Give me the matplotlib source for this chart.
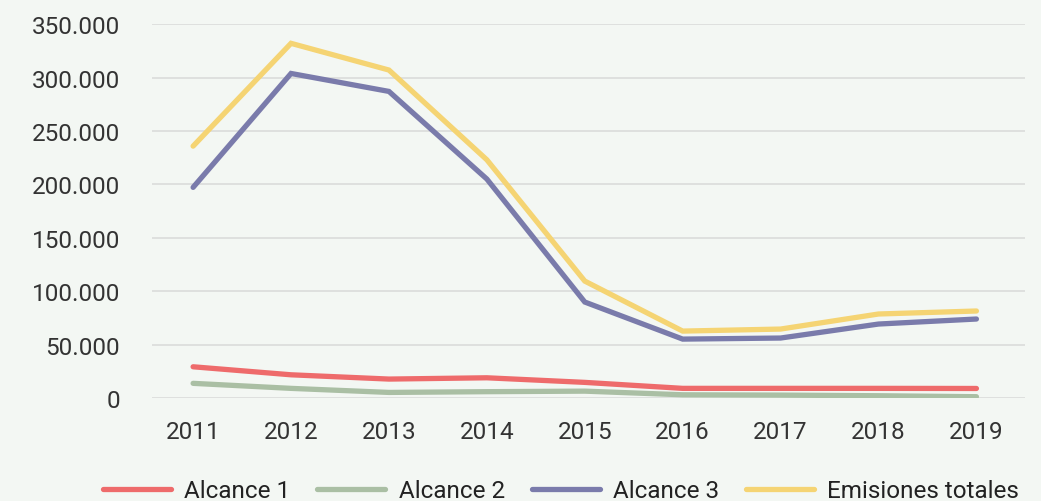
import numpy as np
import matplotlib
matplotlib.use("Agg")
import matplotlib.pyplot as plt
from matplotlib.ticker import FuncFormatter

years = ["2011", "2012", "2013", "2014", "2015", "2016", "2017", "2018", "2019"]
alcance_1 = [29300, 21800, 17800, 19000, 14700, 9100, 9100, 9100, 9000]
alcance_2 = [13800, 9100, 5300, 6000, 6500, 3100, 2800, 2200, 1300]
alcance_3 = [197200, 303800, 287000, 205000, 89900, 55200, 56200, 69300, 74000]
totales = [235800, 332000, 307000, 223000, 109500, 62700, 64600, 78700, 81500]

series_names = ["Alcance 1", "Alcance 2", "Alcance 3", "Emisiones totales"]
colors = ["#ee6b6b", "#aabfa4", "#7a7bab", "#f5d473"]
bg = "#f3f7f3"

plt.rcParams["font.family"] = ["Roboto", "DejaVu Sans"]

fig = plt.figure(figsize=(10.41, 5.02), dpi=100, facecolor=bg)
ax = fig.add_axes([0.146, 0.205, 0.839, 0.745], facecolor=bg)

x = np.arange(len(years))
for vals, name, c in zip([alcance_1, alcance_2, alcance_3, totales], series_names, colors):
    ax.plot(x, vals, color=c, lw=3.8, label=name,
            solid_capstyle="round", solid_joinstyle="miter")

ax.set_ylim(0, 350000)
ax.set_yticks(np.arange(0, 350001, 50000))
ax.yaxis.set_major_formatter(FuncFormatter(lambda v, p: f"{int(v):,}".replace(",", ".")))
ax.set_xlim(-0.42, 8.5)
ax.set_xticks(x)
ax.set_xticklabels(years)

ax.grid(axis="y", color="#dadcda", lw=1.2)
ax.set_axisbelow(True)
for s in ax.spines.values():
    s.set_visible(False)
ax.tick_params(length=0, labelsize=17.5, labelcolor="#333333")
ax.tick_params(axis="y", pad=23)
ax.tick_params(axis="x", pad=16)

fig.legend(loc="center", bbox_to_anchor=(0.539, 0.02), ncol=4, frameon=False,
           fontsize=17.5, handlelength=2.8, handletextpad=0.55, columnspacing=1.1,
           labelcolor="#222222")

fig.savefig("out.png", dpi=100, facecolor=bg)
